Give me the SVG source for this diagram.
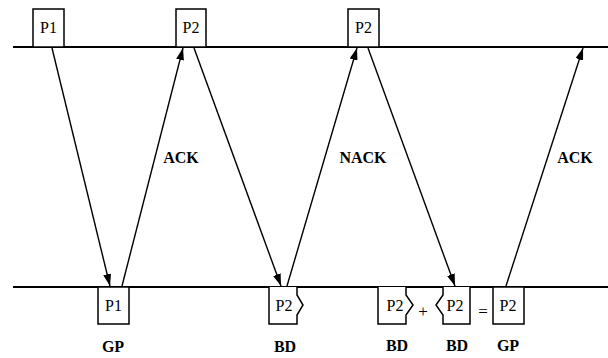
<svg xmlns="http://www.w3.org/2000/svg" width="608" height="358" viewBox="0 0 608 358">
  <style>
    .axis { stroke: #000; stroke-width: 2; fill: none; }
    .box { stroke: #000; stroke-width: 1.5; fill: #fff; }
    .pkt { font-family: "Liberation Serif", "Times New Roman", serif; font-size: 16px; fill: #000; text-anchor: middle; }
    .lbl { font-family: "Liberation Serif", "Times New Roman", serif; font-size: 16px; font-weight: bold; fill: #000; text-anchor: middle; }
    .op { font-family: "Liberation Serif", "Times New Roman", serif; font-size: 17px; fill: #000; text-anchor: middle; }
    .msg { stroke: #000; stroke-width: 1.4; fill: none; marker-end: url(#arrow); }
  </style>
  <defs>
    <marker id="arrow" viewBox="0 0 12 8" refX="12" refY="4" markerWidth="12" markerHeight="8" markerUnits="userSpaceOnUse" orient="auto">
      <path d="M0,0 L12,4 L0,8 z" fill="#000"/>
    </marker>
  </defs>

  <!-- time axes: sender (top) and receiver (bottom) -->
  <g id="axes">
    <line class="axis" x1="13" y1="47" x2="608" y2="47"/>
    <line class="axis" x1="13" y1="287" x2="608" y2="287"/>
  </g>

  <!-- transmissions and feedback -->
  <g id="connectors">
    <line class="msg" x1="52" y1="48" x2="110" y2="286"/>
    <line class="msg" x1="122" y1="286" x2="183" y2="48"/>
    <line class="msg" x1="194" y1="48" x2="281" y2="286"/>
    <line class="msg" x1="287" y1="286" x2="357" y2="48"/>
    <line class="msg" x1="368" y1="48" x2="455" y2="286"/>
    <line class="msg" x1="506" y1="286" x2="583" y2="48"/>
  </g>

  <!-- sender packets -->
  <g id="tx-p1">
    <rect class="box" x="33" y="9" width="31" height="38"/>
    <text class="pkt" x="48.5" y="33">P1</text>
  </g>
  <g id="tx-p2a">
    <rect class="box" x="176" y="9" width="30" height="38"/>
    <text class="pkt" x="191" y="33">P2</text>
  </g>
  <g id="tx-p2b">
    <rect class="box" x="348" y="9" width="31" height="38"/>
    <text class="pkt" x="363.5" y="33">P2</text>
  </g>

  <!-- feedback labels -->
  <g id="ack1"><text class="lbl" x="181" y="163">ACK</text></g>
  <g id="nack"><text class="lbl" x="363" y="163">NACK</text></g>
  <g id="ack2"><text class="lbl" x="575" y="163">ACK</text></g>

  <!-- receiver packets -->
  <g id="rx-p1">
    <rect class="box" x="98" y="287" width="31" height="37"/>
    <text class="pkt" x="113.5" y="311">P1</text>
    <text class="lbl" x="113" y="352">GP</text>
  </g>
  <g id="rx-p2-bd">
    <path class="box" d="M269,287 V324 H297 V315 L303,305 L297,295 V287"/>
    <text class="pkt" x="284" y="311">P2</text>
    <text class="lbl" x="285" y="352">BD</text>
  </g>
  <g id="rx-p2-bd-a">
    <path class="box" d="M378,287 V324 H406 V315 L413,305 L406,295 V287"/>
    <text class="pkt" x="395" y="311">P2</text>
    <text class="lbl" x="397" y="351">BD</text>
  </g>
  <g id="plus"><text class="op" x="423" y="317">+</text></g>
  <g id="rx-p2-bd-b">
    <path class="box" d="M443,287 V295 L436,305 L443,315 V324 H470 V287"/>
    <text class="pkt" x="455" y="311">P2</text>
    <text class="lbl" x="457" y="351">BD</text>
  </g>
  <g id="equals"><text class="op" x="483" y="317">=</text></g>
  <g id="rx-p2-gp">
    <rect class="box" x="493" y="287" width="31" height="37"/>
    <text class="pkt" x="508" y="311">P2</text>
    <text class="lbl" x="508" y="351">GP</text>
  </g>
</svg>
